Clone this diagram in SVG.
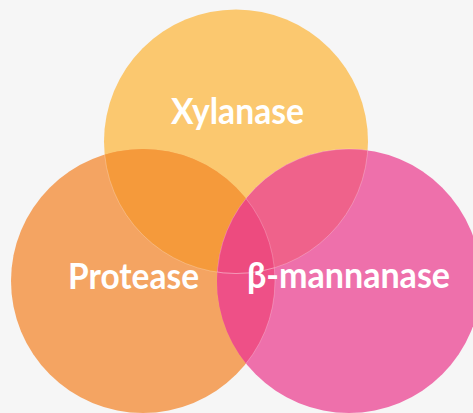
<svg xmlns="http://www.w3.org/2000/svg" width="473" height="413" viewBox="0 0 473 413">
<defs>
<style>
.lbl{font-family:Lato,"Open Sans","Liberation Sans",sans-serif;font-weight:bold;fill:#ffffff;font-size:36px}
.edge{fill:none;stroke:#ffffff;stroke-opacity:0.3;stroke-width:0.8}
</style>
<clipPath id="cX"><circle cx="236" cy="141.5" r="132"/></clipPath>
<clipPath id="cP"><circle cx="143" cy="281" r="132"/></clipPath>
<clipPath id="cM"><circle cx="349" cy="281" r="132"/></clipPath>
</defs>
<rect width="473" height="413" fill="#f6f6f6"/>
<g id="xylanase">
<circle cx="236" cy="141.5" r="132" fill="#fbc86f"/>
</g>
<g id="protease">
<circle cx="143" cy="281" r="132" fill="#f4a462"/>
</g>
<g id="mannanase">
<circle cx="349" cy="281" r="132" fill="#ee70ab"/>
</g>
<g id="overlaps">
<circle cx="143" cy="281" r="132" fill="#f59a3b" clip-path="url(#cX)"/>
<circle cx="349" cy="281" r="132" fill="#ef628b" clip-path="url(#cX)"/>
<circle cx="349" cy="281" r="132" fill="#ee5087" clip-path="url(#cP)"/>
<g clip-path="url(#cX)"><circle cx="349" cy="281" r="132" fill="#ed4b7f" clip-path="url(#cP)"/></g>
<circle class="edge" cx="236" cy="141.5" r="132" clip-path="url(#cP)"/>
<circle class="edge" cx="236" cy="141.5" r="132" clip-path="url(#cM)"/>
<circle class="edge" cx="143" cy="281" r="132" clip-path="url(#cM)"/>
<circle class="edge" cx="349" cy="281" r="132" clip-path="url(#cX)"/>
</g>
<g id="labels">
<text class="lbl" x="171" y="124" textLength="133" lengthAdjust="spacingAndGlyphs">Xylanase</text>
<text class="lbl" x="68" y="289" textLength="131" lengthAdjust="spacingAndGlyphs">Protease</text>
<text class="lbl" x="247" y="288" textLength="203" lengthAdjust="spacingAndGlyphs">β-mannanase</text>
</g>
</svg>
